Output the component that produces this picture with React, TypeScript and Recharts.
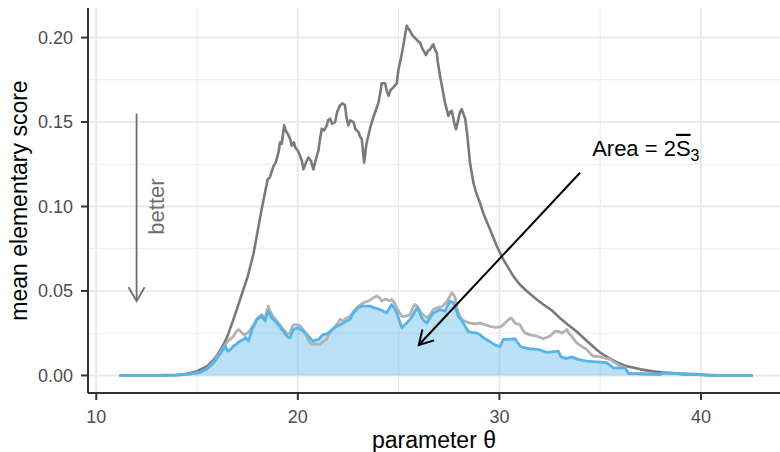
import React from "react";
import {
  ComposedChart,
  Line,
  Area,
  XAxis,
  YAxis,
  CartesianGrid,
  ReferenceLine,
  ReferenceDot,
  Label,
} from "recharts";

// ---------- data ----------
const darkTheta = [
  11.14, 12.0, 13.0, 13.5, 14.0, 14.5, 15.0, 15.5, 15.8, 16.0, 16.3, 16.5, 16.8, 17.0, 17.3, 17.5, 17.8, 18.0,
  18.2, 18.3, 18.5, 18.6, 18.8, 18.9, 19.04, 19.12, 19.2, 19.32, 19.4, 19.5, 19.62, 19.7, 19.8, 19.87, 20.0,
  20.11, 20.2, 20.28, 20.4, 20.53, 20.65, 20.77, 20.9, 21.02, 21.1, 21.19, 21.3, 21.44, 21.5, 21.6, 21.7,
  21.85, 21.95, 22.1, 22.2, 22.34, 22.42, 22.51, 22.6, 22.76, 22.85, 23.01, 23.1, 23.17, 23.29, 23.4, 23.5,
  23.6, 23.75, 23.9, 24.0, 24.1, 24.16, 24.33, 24.42, 24.5, 24.6, 24.74, 24.91, 24.99, 25.1, 25.2, 25.3,
  25.4, 25.5, 25.57, 25.7, 25.8, 25.95, 26.06, 26.2, 26.36, 26.45, 26.56, 26.72, 26.8, 26.89, 26.95, 27.06,
  27.2, 27.3, 27.47, 27.55, 27.64, 27.75, 27.85, 27.95, 28.05, 28.13, 28.3, 28.41, 28.54, 28.71, 28.85,
  29.04, 29.2, 29.53, 29.87, 30.19, 30.69, 31.0, 31.35, 31.85, 32.18, 32.6, 33.0, 33.4, 33.83, 34.33, 34.66,
  35.0, 35.48, 35.82, 36.3, 37.0, 37.6, 38.3, 39.0, 40.0, 41.0, 42.57,
];
const darkScore = [
  0, 0, 0.0001, 0.0002, 0.0004, 0.001, 0.0025, 0.0055, 0.009, 0.012, 0.018, 0.023, 0.033, 0.04, 0.051, 0.058,
  0.072, 0.085, 0.098, 0.104, 0.116, 0.117, 0.124, 0.126, 0.132, 0.138, 0.137, 0.148, 0.145, 0.143, 0.14,
  0.136, 0.138, 0.135, 0.133, 0.13, 0.127, 0.122, 0.126, 0.129, 0.127, 0.122, 0.128, 0.133, 0.14, 0.146,
  0.145, 0.148, 0.151, 0.152, 0.149, 0.15, 0.156, 0.16, 0.161, 0.16, 0.152, 0.148, 0.151, 0.15, 0.146, 0.144,
  0.141, 0.14, 0.126, 0.137, 0.142, 0.147, 0.153, 0.158, 0.1615, 0.168, 0.173, 0.173, 0.168, 0.1655, 0.169,
  0.1705, 0.173, 0.181, 0.187, 0.193, 0.2, 0.207, 0.205, 0.204, 0.201, 0.2, 0.198, 0.197, 0.193, 0.1896,
  0.192, 0.193, 0.196, 0.193, 0.191, 0.185, 0.177, 0.168, 0.1615, 0.1536, 0.156, 0.1566, 0.15, 0.1457, 0.151,
  0.156, 0.1576, 0.152, 0.142, 0.126, 0.114, 0.108, 0.102, 0.096, 0.0865, 0.0766, 0.0687, 0.0588, 0.054,
  0.05, 0.045, 0.042, 0.0385, 0.034, 0.03, 0.026, 0.0205, 0.017, 0.0135, 0.01, 0.0078, 0.0055, 0.0036,
  0.0024, 0.0015, 0.0008, 0.0003, 0.0001, 0,
];

const grayTheta = [
  11.14, 13.0, 14.0, 14.6, 15.16, 15.5, 15.82, 16.1, 16.4, 16.55, 16.64, 16.8, 16.95, 17.06, 17.15, 17.22,
  17.35, 17.5, 17.65, 17.72, 17.85, 17.97, 18.1, 18.21, 18.3, 18.38, 18.46, 18.54, 18.62, 18.71, 18.8, 18.96,
  19.1, 19.21, 19.3, 19.45, 19.55, 19.62, 19.7, 19.78, 19.9, 20.03, 20.11, 20.28, 20.4, 20.55, 20.69, 20.85,
  21.1, 21.25, 21.43, 21.52, 21.7, 21.93, 22.1, 22.26, 22.4, 22.59, 22.7, 22.84, 23.0, 23.25, 23.5, 23.75,
  23.92, 24.05, 24.16, 24.3, 24.41, 24.55, 24.66, 24.8, 24.91, 25.05, 25.16, 25.3, 25.57, 25.7, 25.8, 25.93,
  26.06, 26.2, 26.4, 26.55, 26.72, 26.9, 27.2, 27.4, 27.55, 27.64, 27.72, 27.8, 27.9, 28.0, 28.13, 28.3,
  28.54, 28.8, 29.04, 29.3, 29.53, 29.8, 30.03, 30.2, 30.36, 30.5, 30.6, 30.77, 31.02, 31.15, 31.27, 31.52,
  31.85, 32.18, 32.51, 32.76, 32.95, 33.09, 33.25, 33.34, 33.45, 33.58, 33.83, 34.1, 34.33, 34.5, 34.66, 35.0,
  35.48, 35.8, 36.0, 36.23, 36.4, 37.0, 37.96, 38.13, 38.8, 39.5, 40.03, 40.36, 42.57,
];
const grayScore = [
  0, 0, 0.0002, 0.0008, 0.0018, 0.004, 0.008, 0.013, 0.018, 0.0205, 0.0213, 0.023, 0.026, 0.0272, 0.0262,
  0.0252, 0.024, 0.025, 0.027, 0.0285, 0.031, 0.0335, 0.035, 0.036, 0.035, 0.034, 0.038, 0.041, 0.038, 0.036,
  0.0345, 0.032, 0.03, 0.028, 0.027, 0.025, 0.0245, 0.025, 0.028, 0.03, 0.03, 0.0298, 0.0293, 0.027, 0.024,
  0.02, 0.0184, 0.0186, 0.0184, 0.02, 0.0213, 0.024, 0.027, 0.03, 0.0332, 0.032, 0.034, 0.035, 0.037, 0.039,
  0.041, 0.043, 0.044, 0.046, 0.047, 0.046, 0.044, 0.045, 0.045, 0.044, 0.045, 0.043, 0.04, 0.037, 0.035,
  0.035, 0.036, 0.04, 0.042, 0.041, 0.038, 0.036, 0.034, 0.036, 0.039, 0.04, 0.041, 0.044, 0.047, 0.049,
  0.048, 0.046, 0.04, 0.036, 0.0332, 0.032, 0.031, 0.0305, 0.031, 0.03, 0.029, 0.0285, 0.0287, 0.03, 0.032,
  0.0335, 0.034, 0.031, 0.03, 0.027, 0.0252, 0.024, 0.0233, 0.0217, 0.0233, 0.0262, 0.026, 0.025, 0.0262,
  0.0272, 0.025, 0.0233, 0.0193, 0.017, 0.0154, 0.013, 0.0114, 0.011, 0.0095, 0.007, 0.0055, 0.0045, 0.0012,
  0.001, 0.0006, 0.0016, 0.0012, 0.0008, 0.0006, 0, 0,
];

const blueTheta = [
  11.14, 13.0, 14.0, 14.6, 15.16, 15.5, 15.82, 16.1, 16.4, 16.48, 16.56, 16.7, 16.81, 16.95, 17.1, 17.3, 17.4,
  17.55, 17.65, 17.72, 17.85, 17.97, 18.1, 18.21, 18.3, 18.38, 18.46, 18.54, 18.62, 18.71, 18.8, 18.96, 19.1,
  19.21, 19.3, 19.45, 19.55, 19.62, 19.7, 19.78, 19.9, 20.03, 20.15, 20.28, 20.4, 20.53, 20.65, 20.77, 20.9,
  21.02, 21.15, 21.27, 21.4, 21.52, 21.7, 21.93, 22.1, 22.26, 22.4, 22.59, 22.7, 22.84, 23.0, 23.17, 23.4,
  23.58, 23.8, 24.08, 24.25, 24.41, 24.55, 24.66, 24.78, 24.91, 25.05, 25.16, 25.3, 25.4, 25.57, 25.73, 25.85,
  25.93, 26.05, 26.15, 26.3, 26.4, 26.55, 26.72, 26.9, 27.06, 27.2, 27.3, 27.45, 27.55, 27.72, 27.85, 27.96,
  28.1, 28.21, 28.35, 28.46, 28.65, 28.87, 29.05, 29.2, 29.4, 29.62, 29.8, 30.03, 30.19, 30.44, 30.77, 30.9,
  31.02, 31.19, 31.5, 31.85, 32.1, 32.35, 32.6, 32.92, 33.05, 33.34, 33.58, 33.9, 34.33, 34.8, 35.32, 35.5,
  35.65, 36.23, 36.4, 37.0, 37.96, 38.13, 38.8, 39.5, 40.03, 40.36, 42.57,
];
const blueScore = [
  0, 0, 0.0002, 0.0008, 0.0018, 0.004, 0.0075, 0.012, 0.0174, 0.015, 0.0144, 0.016, 0.0174, 0.0185, 0.02,
  0.0213, 0.0225, 0.0203, 0.024, 0.0272, 0.03, 0.0332, 0.034, 0.0351, 0.0335, 0.0322, 0.036, 0.038, 0.036,
  0.034, 0.033, 0.031, 0.029, 0.0272, 0.026, 0.0233, 0.0225, 0.0223, 0.025, 0.0272, 0.0278, 0.0282, 0.027,
  0.0262, 0.025, 0.0233, 0.0215, 0.0203, 0.021, 0.0213, 0.023, 0.0243, 0.0245, 0.0252, 0.027, 0.0292, 0.03,
  0.031, 0.032, 0.0332, 0.036, 0.038, 0.04, 0.041, 0.041, 0.041, 0.04, 0.039, 0.038, 0.037, 0.04, 0.042, 0.04,
  0.037, 0.032, 0.0282, 0.03, 0.031, 0.0332, 0.036, 0.039, 0.04, 0.037, 0.034, 0.032, 0.031, 0.034, 0.037,
  0.038, 0.039, 0.0385, 0.038, 0.042, 0.044, 0.043, 0.039, 0.035, 0.033, 0.031, 0.028, 0.026, 0.0255, 0.0252,
  0.024, 0.0223, 0.021, 0.0193, 0.018, 0.017, 0.0213, 0.0213, 0.0217, 0.0195, 0.0174, 0.0164, 0.0158,
  0.0154, 0.0148, 0.0136, 0.014, 0.0144, 0.011, 0.01, 0.011, 0.0095, 0.0085, 0.008, 0.0075, 0.006, 0.0045,
  0.0045, 0.0012, 0.001, 0.0006, 0.0016, 0.0012, 0.0008, 0.0006, 0, 0,
];

const xTicks = [10, 20, 30, 40];
const xMinor = [15, 25, 35];
const yTicks = [0, 0.05, 0.1, 0.15, 0.2];
const yMinor = [0.025, 0.075, 0.125, 0.175];
const xDomain: [number, number] = [9.59, 43.92];
const yDomain: [number, number] = [-0.0104, 0.2175];

const toRows = (t: number[], v: number[]) => t.map((x, i) => ({ t: x, v: v[i] }));
const darkRows = toRows(darkTheta, darkScore);
const grayRows = toRows(grayTheta, grayScore);
const blueRows = toRows(blueTheta, blueScore);

const FONT = "'Liberation Sans', Arial, Helvetica, sans-serif";
const DARK = "#7A7A7A";
const LIGHT = "#B3B3B3";
const BLUE = "#56B4E9";
const BORDER = "#333333";

function arrowHead(x1: number, y1: number, x2: number, y2: number, len: number, ang: number) {
  const a = Math.atan2(y2 - y1, x2 - x1);
  const p1 = [x2 - len * Math.cos(a - ang), y2 - len * Math.sin(a - ang)];
  const p2 = [x2 - len * Math.cos(a + ang), y2 - len * Math.sin(a + ang)];
  return `M${p1[0]},${p1[1]} L${x2},${y2} L${p2[0]},${p2[1]}`;
}

const makeArrowShape = (color: string, width: number) => (p: any) => {
  const { x1, y1, x2, y2 } = p;
  if (x1 == null) return <g />;
  return (
    <g>
      <line x1={x1} y1={y1} x2={x2} y2={y2} stroke={color} strokeWidth={width} />
      <path d={arrowHead(x1, y1, x2, y2, 16, Math.PI / 6)} fill="none" stroke={color} strokeWidth={width} />
    </g>
  );
};

export default function App() {
  return (
    <div style={{ position: "absolute", left: 0, top: 0, width: 780, height: 452, background: "#fff" }}>
      <ComposedChart width={780} height={452} margin={{ top: 8, right: 0, bottom: 0, left: 0 }}>
        <CartesianGrid
          horizontalValues={yMinor}
          verticalValues={xMinor}
          stroke="#EBEBEB"
          strokeWidth={1.1}
          strokeDasharray=""
        />
        <CartesianGrid
          horizontalValues={yTicks}
          verticalValues={xTicks}
          stroke="#EBEBEB"
          strokeWidth={2.1}
          strokeDasharray=""
        />
        <XAxis
          type="number"
          dataKey="t"
          domain={xDomain}
          ticks={xTicks}
          allowDataOverflow
          height={59}
          tickSize={7}
          tickMargin={10}
          axisLine={{ stroke: BORDER, strokeWidth: 2 }}
          tickLine={{ stroke: BORDER, strokeWidth: 2 }}
          tick={{ fill: "#4D4D4D", fontSize: 18, fontFamily: FONT }}
        >
          <Label
            value="parameter θ"
            position="insideBottom"
            offset={4}
            style={{ fontSize: 23, fontFamily: FONT, fill: "#000" }}
          />
        </XAxis>
        <XAxis
          xAxisId="top"
          orientation="top"
          type="number"
          domain={xDomain}
          allowDataOverflow
          height={0}
          tick={false}
          tickLine={false}
          axisLine={{ stroke: BORDER, strokeWidth: 2 }}
        />
        <YAxis
          type="number"
          domain={yDomain}
          ticks={yTicks}
          allowDataOverflow
          width={88}
          tickSize={7}
          tickMargin={8}
          tickFormatter={(v: number) => v.toFixed(2)}
          axisLine={{ stroke: BORDER, strokeWidth: 2 }}
          tickLine={{ stroke: BORDER, strokeWidth: 2 }}
          tick={{ fill: "#4D4D4D", fontSize: 18, fontFamily: FONT }}
        >
          <Label
            content={(props: any) => {
              const vb = props.viewBox || {};
              const cx = 27;
              const cy = (vb.y ?? 8) + (vb.height ?? 385) / 2;
              return (
                <text
                  x={cx}
                  y={cy}
                  transform={`rotate(-90, ${cx}, ${cy})`}
                  textAnchor="middle"
                  fontSize={23}
                  fontFamily={FONT}
                  fill="#000"
                >
                  mean elementary score
                </text>
              );
            }}
          />
        </YAxis>

        <Area
          data={blueRows}
          dataKey="v"
          type="linear"
          stroke="none"
          fill={BLUE}
          fillOpacity={0.4}
          baseValue={0}
          isAnimationActive={false}
          activeDot={false}
        />
        <Line data={darkRows} dataKey="v" type="linear" stroke={DARK} strokeWidth={2.6} strokeLinejoin="round" dot={false} activeDot={false} isAnimationActive={false} />
        <Line data={grayRows} dataKey="v" type="linear" stroke={LIGHT} strokeWidth={2.8} strokeLinejoin="round" dot={false} activeDot={false} isAnimationActive={false} />
        <Line data={blueRows} dataKey="v" type="linear" stroke={BLUE} strokeWidth={2.8} strokeLinejoin="round" dot={false} activeDot={false} isAnimationActive={false} />

        <ReferenceLine
          segment={[{ x: 12, y: 0.155 }, { x: 12, y: 0.044 }]}
          ifOverflow="visible"
          shape={makeArrowShape("#6E6E6E", 1.8)}
        />
        <ReferenceLine
          segment={[{ x: 34, y: 0.12 }, { x: 26, y: 0.018 }]}
          ifOverflow="visible"
          shape={makeArrowShape("#000000", 2)}
        />
        <ReferenceDot
          x={13}
          y={0.1}
          r={0}
          ifOverflow="visible"
          shape={(p: any) => (
            <text
              x={p.cx}
              y={p.cy}
              transform={`rotate(-90, ${p.cx}, ${p.cy})`}
              textAnchor="middle"
              dy="0.35em"
              fontSize={22}
              fontFamily={FONT}
              fill="#6E6E6E"
            >
              better
            </text>
          )}
        />
        <ReferenceDot
          x={34.6}
          y={0.13}
          r={0}
          ifOverflow="visible"
          shape={(p: any) => (
            <text x={p.cx} y={p.cy} fontSize={22} fontFamily={FONT} fill="#000">
              <tspan>Area = 2</tspan>
              <tspan style={{ textDecoration: "overline" }}>S</tspan>
              <tspan fontSize={16} dy={5}>3</tspan>
            </text>
          )}
        />
      </ComposedChart>
    </div>
  );
}
